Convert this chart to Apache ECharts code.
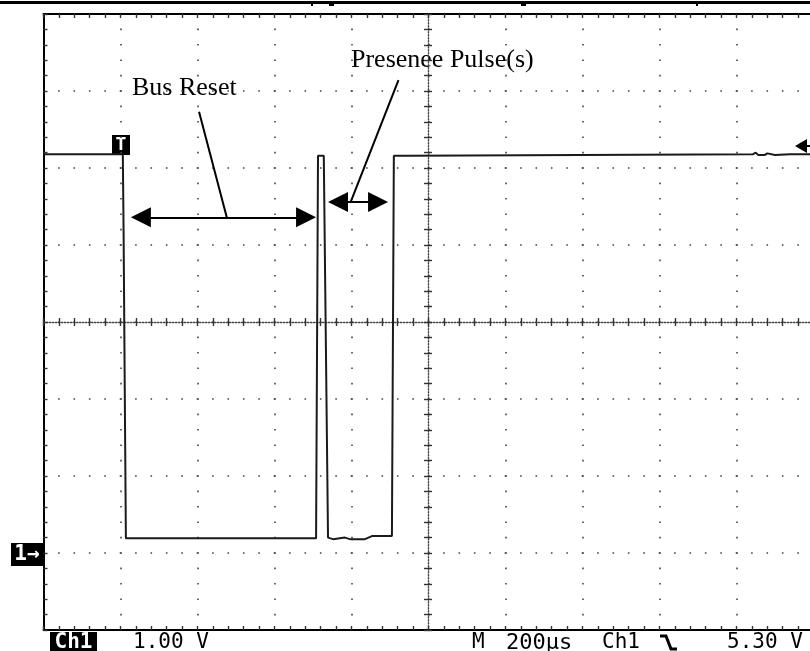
<!DOCTYPE html>
<html>
<head>
<meta charset="utf-8">
<title>Bus Reset / Presence Pulse</title>
<script src="https://cdn.jsdelivr.net/npm/echarts@6/dist/echarts.min.js"></script>
<style>
  html, body { margin: 0; padding: 0; background: #fff; }
  #scope { width: 810px; height: 651px; }
</style>
</head>
<body>
<div id="scope"></div>
<script>
// trace: time in us (200 us/div), level in volts (1 V/div)
const timeUs = [0, 206, 208, 212, 214, 708, 713, 728, 739, 752, 783, 796, 835, 853, 905, 910, 947, 950, 1843, 1850, 1856, 1874, 1880, 1900, 1939, 2000]
const voltsV = [5.18, 5.18, 4.2, 1.5, 0.19, 0.19, 5.16, 5.16, 0.2, 0.18, 0.2, 0.18, 0.18, 0.22, 0.22, 5.16, 5.16, 5.18, 5.18, 5.2, 5.17, 5.17, 5.19, 5.17, 5.18, 5.18]

// annotation arrows (us, V)
const resetArrowUs = [253, 682]
const resetArrowV = 4.36
const presenceArrowUs = [765, 869]
const presenceArrowV = 4.56
const resetLeader = [[404, 5.73], [476, 4.36]]
const presenceLeader = [[922, 6.14], [798, 4.56]]

const labels = ['Bus Reset', 'Presenee Pulse(s)']
const readout = ['Ch1', '1.00 V', 'M', '200\u00b5s', 'Ch1', '5.30 V']

const X_MIN = 0, X_MAX = 2000, X_STEP = 200
const Y_MIN = -1, Y_MAX = 7, Y_STEP = 1

const chart = echarts.init(document.getElementById('scope'))

const dotGrid = { show: true, lineStyle: { color: '#444', width: 1.6, type: [1.6, 13.8], dashOffset: 0.8 } }
const frameLine = { show: true, onZero: false, lineStyle: { color: '#000', width: 2 } }
const centerLine = { show: true, onZero: false, lineStyle: { color: '#444', width: 1.4, type: [1.4, 1.6] } }
const tick = (inside) => ({ show: true, inside: inside, length: 4, lineStyle: { color: '#333', width: 1.4 } })
const minor = { show: true, splitNumber: 5, length: 4, lineStyle: { color: '#333', width: 1.4 } }

function xAxis (position, opts) {
  return Object.assign({
    type: 'value', min: X_MIN, max: X_MAX, interval: X_STEP, position: position,
    axisLabel: { show: false }, splitLine: { show: false },
    axisLine: frameLine, axisTick: tick(true), minorTick: minor
  }, opts)
}
function yAxis (position, opts) {
  return Object.assign({
    type: 'value', min: Y_MIN, max: Y_MAX, interval: Y_STEP, position: position,
    axisLabel: { show: false }, splitLine: { show: false },
    axisLine: frameLine, axisTick: tick(true), minorTick: minor
  }, opts)
}

const arrowEnd = (c) => ({ coord: c, symbol: 'triangle', symbolSize: [20, 20] })
const plainEnd = (c) => ({ coord: c, symbol: 'none' })

const option = {
  animation: false,
  backgroundColor: '#fff',
  // screen is 10 x 8 divisions of 77px, right edge runs past the photo
  grid: { left: 43.5, top: 14, width: 770, height: 616, containLabel: false, outerBoundsMode: 'none' },
  xAxis: [
    xAxis('bottom', { splitLine: dotGrid }),
    xAxis('top'),
    xAxis('bottom', { offset: -308, axisLine: centerLine, axisTick: tick(true) }),
    xAxis('bottom', { offset: -308, axisLine: { show: false, onZero: false }, axisTick: tick(false) })
  ],
  yAxis: [
    yAxis('left', { splitLine: dotGrid }),
    yAxis('right', { axisLine: { show: false, onZero: false }, axisTick: { show: false }, minorTick: { show: false } }),
    yAxis('left', { offset: -384.5, axisLine: centerLine, axisTick: tick(true) }),
    yAxis('left', { offset: -384.5, axisLine: { show: false, onZero: false }, axisTick: tick(false) })
  ],
  series: [{
    type: 'line',
    xAxisIndex: 0,
    yAxisIndex: 0,
    data: timeUs.map((t, i) => [t, voltsV[i]]),
    showSymbol: false,
    symbol: 'none',
    lineStyle: { color: '#1a1a1a', width: 2 },
    silent: true,
    markLine: {
      silent: true,
      animation: false,
      label: { show: false },
      lineStyle: { color: '#000', width: 2, type: 'solid' },
      emphasis: { disabled: true },
      data: [
        [arrowEnd([resetArrowUs[0], resetArrowV]), arrowEnd([resetArrowUs[1], resetArrowV])],
        [arrowEnd([presenceArrowUs[0], presenceArrowV]), arrowEnd([presenceArrowUs[1], presenceArrowV])],
        [plainEnd(resetLeader[0]), plainEnd(resetLeader[1])],
        [plainEnd(presenceLeader[0]), plainEnd(presenceLeader[1])]
      ]
    }
  }],
  graphic: [
    // cut-off status line at the very top
    { type: 'rect', shape: { x: 0, y: 1, width: 810, height: 3 }, style: { fill: '#000' } },
    { type: 'rect', shape: { x: 311, y: 4, width: 2, height: 2 }, style: { fill: '#000' } },
    { type: 'rect', shape: { x: 329, y: 3, width: 5, height: 3 }, style: { fill: '#000' } },
    { type: 'rect', shape: { x: 521, y: 3, width: 5, height: 3 }, style: { fill: '#000' } },
    { type: 'rect', shape: { x: 696, y: 4, width: 2, height: 2 }, style: { fill: '#000' } },

    // trigger position marker
    { type: 'rect', shape: { x: 112, y: 135, width: 18, height: 20 }, style: { fill: '#000' } },
    { type: 'text', x: 121, y: 145, style: { text: 'T', font: 'bold 18px "DejaVu Sans Mono"', fill: '#fff', textAlign: 'center', textVerticalAlign: 'middle', align: 'center', verticalAlign: 'middle' } },

    // channel ground marker
    { type: 'rect', shape: { x: 11, y: 543, width: 32, height: 23 }, style: { fill: '#000' } },
    { type: 'text', x: 27, y: 555, style: { text: '1\u2192', font: 'bold 21px "DejaVu Sans Mono"', fill: '#fff', textAlign: 'center', textVerticalAlign: 'middle', align: 'center', verticalAlign: 'middle' } },

    // trigger level marker
    { type: 'polygon', shape: { points: [[795, 146], [807, 139], [807, 153]] }, style: { fill: '#000' } },
    { type: 'rect', shape: { x: 805, y: 145, width: 5, height: 2 }, style: { fill: '#000' } },

    // annotations
    { type: 'text', x: 132, y: 88, style: { text: labels[0], font: '26px "Liberation Serif"', fill: '#000', textVerticalAlign: 'middle', verticalAlign: 'middle' } },
    { type: 'text', x: 351, y: 60, style: { text: labels[1], font: '26px "Liberation Serif"', fill: '#000', textVerticalAlign: 'middle', verticalAlign: 'middle' } },

    // readout line
    { type: 'rect', shape: { x: 50, y: 632, width: 47, height: 19 }, style: { fill: '#000' } },
    { type: 'text', x: 73.5, y: 643, style: { text: readout[0], font: 'bold 21px "DejaVu Sans Mono"', fill: '#fff', textAlign: 'center', textVerticalAlign: 'middle', align: 'center', verticalAlign: 'middle' } },
    { type: 'text', x: 133, y: 643, style: { text: readout[1], font: '21px "DejaVu Sans Mono"', fill: '#000', textVerticalAlign: 'middle', verticalAlign: 'middle' } },
    { type: 'text', x: 472, y: 643, style: { text: readout[2], font: '21px "DejaVu Sans Mono"', fill: '#000', textVerticalAlign: 'middle', verticalAlign: 'middle' } },
    { type: 'text', x: 506, y: 643, style: { text: readout[3], font: '22px "DejaVu Sans Mono"', fill: '#000', textVerticalAlign: 'middle', verticalAlign: 'middle' } },
    { type: 'text', x: 602, y: 643, style: { text: readout[4], font: '21px "DejaVu Sans Mono"', fill: '#000', textVerticalAlign: 'middle', verticalAlign: 'middle' } },
    { type: 'polyline', shape: { points: [[660, 636], [666, 636], [671, 649], [677, 649]] }, style: { stroke: '#000', lineWidth: 3, fill: null } },
    { type: 'text', x: 727, y: 643, style: { text: readout[5], font: '21px "DejaVu Sans Mono"', fill: '#000', textVerticalAlign: 'middle', verticalAlign: 'middle' } }
  ]
}

chart.setOption(option)
</script>
</body>
</html>
